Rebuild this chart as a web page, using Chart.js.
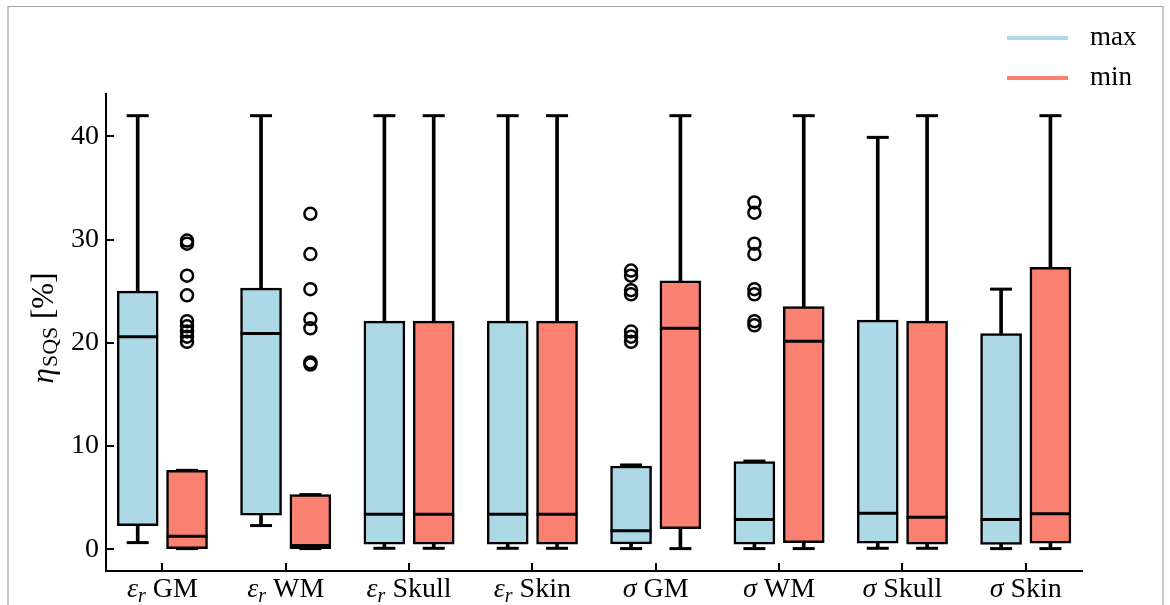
<!DOCTYPE html>
<html>
<head>
<meta charset="utf-8">
<script src="https://cdn.jsdelivr.net/npm/chart.js@4.4.1/dist/chart.umd.min.js"></script>
<style>
html, body { margin: 0; padding: 0; background: #fff; }
#wrap { position: relative; width: 1170px; height: 605px; overflow: hidden; }
#frame { position: absolute; left: 7px; top: 6px; width: 1153px; height: 640px;
  border-left: 2px solid #cccccc; border-right: 2px solid #cccccc; border-top: 1px solid #a0a0a0;
  pointer-events: none; }
canvas { position: absolute; left: 0; top: 0; }
</style>
</head>
<body>
<div id="wrap">
  <canvas id="boxChart" width="1170" height="605"></canvas>
  <div id="frame"></div>
</div>
<script>
// Category labels: symbol (italic), subscript, tissue name
const symbols = ['ε', 'ε', 'ε', 'ε', 'σ', 'σ', 'σ', 'σ'];
const subs = ['r', 'r', 'r', 'r', '', '', '', ''];
const tissues = ['GM', 'WM', 'Skull', 'Skin', 'GM', 'WM', 'Skull', 'Skin'];
const yTicks = [0, 10, 20, 30, 40];
const seriesNames = ['max', 'min'];

// Box stats per category: [lower whisker, Q1, median, Q3, upper whisker]
const maxStats = [
    [0.65, 2.3, 20.6, 25.0, 42.0],
    [2.3, 3.3, 20.9, 25.3, 42.0],
    [0.1, 0.5, 3.4, 22.1, 42.0],
    [0.1, 0.5, 3.4, 22.1, 42.0],
    [0.07, 0.52, 1.8, 8.07, 8.17],
    [0.07, 0.5, 2.9, 8.5, 8.55],
    [0.1, 0.6, 3.5, 22.2, 39.9],
    [0.07, 0.48, 2.9, 20.9, 25.2]
];
const minStats = [
    [0.07, 0.07, 1.26, 7.65, 7.65],
    [0.07, 0.07, 0.36, 5.3, 5.3],
    [0.1, 0.5, 3.4, 22.1, 42.0],
    [0.1, 0.5, 3.4, 22.1, 42.0],
    [0.07, 2.0, 21.4, 26.0, 42.0],
    [0.07, 0.65, 20.15, 23.5, 42.0],
    [0.1, 0.5, 3.1, 22.1, 42.0],
    [0.07, 0.6, 3.45, 27.3, 42.0]
];

// Outliers per category
const maxOutliers = [
    [], [], [], [],
    [27.0, 26.5, 25.1, 24.7, 21.1, 20.6, 20.1],
    [33.6, 32.6, 29.6, 28.6, 25.2, 24.7, 22.1, 21.7],
    [], []
];
const minOutliers = [
    [29.9, 29.6, 26.5, 24.6, 22.1, 21.6, 21.1, 20.6, 20.1],
    [32.5, 28.6, 25.2, 22.3, 21.4, 18.1, 17.9],
    [], [], [], [], [], []
];

// Styling
const colors = ['#add8e6', '#fa8072'];
const serif = "'Liberation Serif', 'Times New Roman', serif";
const fontSize = 28;
const titleSize = 31;
const legendSize = 27;
const boxWidth = 41;
const capRadius = 11;
const groupOffset = 0.2;

function boxDatasets(stats, outliers, color, name, dx) {
    const whiskers = [];
    const boxes = [];
    const medians = [];
    const caps = [];
    const flyers = [];
    stats.forEach((s, i) => {
        const x = i + dx;
        whiskers.push({ x: x, y: [s[3], s[4]] });
        whiskers.push({ x: x, y: [s[0], s[1]] });
        boxes.push({ x: x, y: [s[1], s[3]] });
        medians.push({ x: x, y: s[2] });
        caps.push({ x: x, y: s[0] });
        caps.push({ x: x, y: s[4] });
        outliers[i].forEach(v => flyers.push({ x: x, y: v }));
    });
    return [
        { type: 'bar', label: name + ' whiskers', data: whiskers, backgroundColor: '#000',
          barThickness: 3, grouped: false, order: 5 },
        { type: 'bar', label: name, data: boxes, backgroundColor: color, borderColor: '#000',
          borderWidth: 2.5, borderSkipped: false, barThickness: boxWidth, grouped: false, order: 4 },
        { type: 'scatter', label: name + ' median', data: medians, pointStyle: 'line',
          pointRadius: boxWidth / 2, borderColor: '#000', borderWidth: 3, order: 3 },
        { type: 'scatter', label: name + ' caps', data: caps, pointStyle: 'line',
          pointRadius: capRadius, borderColor: '#000', borderWidth: 3, order: 2 },
        { type: 'scatter', label: name + ' outliers', data: flyers, pointStyle: 'circle',
          pointRadius: 6, borderColor: '#000', borderWidth: 2.5, backgroundColor: 'rgba(0,0,0,0)', order: 1 }
    ];
}

// Inward ticks, x labels, y title and legend
const decor = {
    id: 'decor',
    afterDraw(chart) {
        const { ctx, chartArea, scales: { x, y } } = chart;
        ctx.save();
        ctx.strokeStyle = '#000';
        ctx.lineWidth = 2;
        y.ticks.forEach(t => {
            const py = Math.round(y.getPixelForValue(t.value));
            ctx.beginPath();
            ctx.moveTo(chartArea.left, py);
            ctx.lineTo(chartArea.left + 8, py);
            ctx.stroke();
        });
        x.ticks.forEach(t => {
            const px = Math.round(x.getPixelForValue(t.value));
            ctx.beginPath();
            ctx.moveTo(px, chartArea.bottom);
            ctx.lineTo(px, chartArea.bottom - 8);
            ctx.stroke();
        });

        // x labels
        ctx.fillStyle = '#000';
        ctx.textBaseline = 'alphabetic';
        ctx.textAlign = 'left';
        const fMain = fontSize + 'px ' + serif;
        const fIt = 'italic ' + fontSize + 'px ' + serif;
        const fSub = 'italic ' + Math.round(fontSize * 0.7) + 'px ' + serif;
        const baseY = chartArea.bottom + 26;
        tissues.forEach((name, i) => {
            const cx = x.getPixelForValue(i);
            ctx.font = fIt; const w1 = ctx.measureText(symbols[i]).width;
            ctx.font = fSub; const w2 = subs[i] ? ctx.measureText(subs[i]).width : 0;
            ctx.font = fMain; const w3 = ctx.measureText(' ' + name).width;
            let px = cx - (w1 + w2 + w3) / 2;
            ctx.font = fIt; ctx.fillText(symbols[i], px, baseY); px += w1;
            if (subs[i]) { ctx.font = fSub; ctx.fillText(subs[i], px, baseY + 5); px += w2; }
            ctx.font = fMain; ctx.fillText(' ' + name, px, baseY);
        });

        // y title: eta_SQS [%]
        ctx.translate(45, (chartArea.top + chartArea.bottom) / 2 - 4);
        ctx.rotate(-Math.PI / 2);
        ctx.textBaseline = 'middle';
        const tMain = titleSize + 'px ' + serif;
        const tIt = 'italic ' + titleSize + 'px ' + serif;
        const tSub = Math.round(titleSize * 0.7) + 'px ' + serif;
        ctx.font = tIt; const a = ctx.measureText('η').width;
        ctx.font = tSub; const b = ctx.measureText('SQS').width;
        ctx.font = tMain; const c = ctx.measureText(' [%]').width;
        let tx = -(a + b + c) / 2;
        ctx.font = tIt; ctx.fillText('η', tx, 0); tx += a + 1;
        ctx.font = tSub; ctx.fillText('SQS', tx, 6); tx += b;
        ctx.font = tMain; ctx.fillText(' [%]', tx, 0);
        ctx.restore();

        // legend
        ctx.save();
        ctx.textBaseline = 'middle';
        ctx.font = legendSize + 'px ' + serif;
        ctx.fillStyle = '#000';
        ctx.lineWidth = 4;
        seriesNames.forEach((n, k) => {
            const ly = 38 + k * 40;
            ctx.strokeStyle = colors[k];
            ctx.beginPath();
            ctx.moveTo(1007, ly);
            ctx.lineTo(1068, ly);
            ctx.stroke();
            ctx.fillText(n, 1090, ly);
        });
        ctx.restore();
    }
};

const datasets = [
    ...boxDatasets(maxStats, maxOutliers, colors[0], seriesNames[0], -groupOffset),
    ...boxDatasets(minStats, minOutliers, colors[1], seriesNames[1], groupOffset)
];

new Chart(document.getElementById('boxChart'), {
    type: 'bar',
    data: { datasets: datasets },
    options: {
        responsive: false,
        animation: false,
        events: [],
        devicePixelRatio: 1,
        layout: { padding: { top: 94, right: 88, left: 0, bottom: 0 } },
        plugins: { legend: { display: false }, tooltip: { enabled: false } },
        scales: {
            x: {
                type: 'linear',
                offset: false,
                min: -0.457,
                max: 7.456,
                grid: { display: false, offset: false, drawTicks: false },
                border: { display: true, color: '#000', width: 2 },
                ticks: { display: false, stepSize: 1, includeBounds: false },
                afterFit: s => { s.height = 34; }
            },
            y: {
                type: 'linear',
                min: -2.1,
                max: 44.1,
                grid: { display: false, drawTicks: false },
                border: { display: true, color: '#000', width: 2 },
                afterBuildTicks: s => { s.ticks = yTicks.map(v => ({ value: v })); },
                ticks: { color: '#000', padding: 7, font: { family: serif, size: fontSize } },
                afterFit: s => { s.width = 106; }
            }
        }
    },
    plugins: [decor]
});
</script>
</body>
</html>
